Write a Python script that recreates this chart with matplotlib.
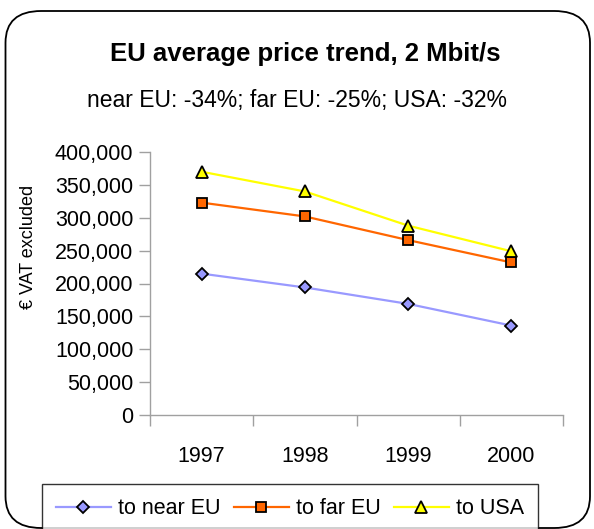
import matplotlib
matplotlib.use("Agg")
import matplotlib.pyplot as plt
from matplotlib.patches import FancyBboxPatch
from matplotlib.ticker import FuncFormatter, FixedLocator

years = ["1997", "1998", "1999", "2000"]
near_eu = [215000, 194000, 169000, 136000]
far_eu = [323000, 302000, 266000, 232000]
usa = [370000, 340000, 288000, 249000]

plt.rcParams['font.family'] = ['Liberation Sans', 'DejaVu Sans']

W, H = 594, 529
fig = plt.figure(figsize=(W / 100, H / 100), dpi=100)

# rounded outer frame
frame = FancyBboxPatch((5.5 / W, 1 - 528 / H), (590 - 5.5) / W, (528 - 11) / H,
                       boxstyle="round,pad=0,rounding_size=0.06",
                       transform=fig.transFigure, fill=False,
                       edgecolor="black", linewidth=1.3)
fig.patches.append(frame)

fig.text(305 / W, 1 - 61 / H, "EU average price trend, 2 Mbit/s",
         ha="center", va="baseline", fontsize=18.5, fontweight="bold")
fig.text(297 / W, 1 - 107 / H, "near EU: -34%; far EU: -25%; USA: -32%",
         ha="center", va="baseline", fontsize=16.5)

ax = fig.add_axes([150 / W, 1 - 415 / H, (563 - 150) / W, (415 - 152) / H])
x = range(len(years))
ax.plot(x, near_eu, color="#9999FF", lw=1.6, marker="D", ms=6,
        mfc="#9999FF", mec="black", mew=1.3, label="to near EU")
ax.plot(x, far_eu, color="#FF6600", lw=1.6, marker="s", ms=7.5,
        mfc="#FF6600", mec="black", mew=1.3, label="to far EU")
ax.plot(x, usa, color="#FFFF00", lw=1.6, marker="^", ms=8.5,
        mfc="#FFFF00", mec="black", mew=1.3, label="to USA")

ax.set_xlim(-0.5, len(years) - 0.5)
ax.set_ylim(0, 400000)
ax.set_yticks(range(0, 400001, 50000))
ax.yaxis.set_major_formatter(FuncFormatter(lambda v, p: f"{int(v):,}"))
ax.set_xticks(list(x))
ax.set_xticklabels(years)
ax.xaxis.set_minor_locator(FixedLocator([i - 0.5 for i in range(len(years) + 1)]))
ax.tick_params(axis="x", which="major", length=0, pad=22, labelsize=15.5)
ax.tick_params(axis="x", which="minor", length=8, color="#A0A0A0", width=1)
ax.tick_params(axis="y", length=8, color="#A0A0A0", width=1, pad=4, labelsize=15.5)
for s in ["top", "right"]:
    ax.spines[s].set_visible(False)
for s in ["left", "bottom"]:
    ax.spines[s].set_color("#A0A0A0")
    ax.spines[s].set_linewidth(1)
ax.set_ylabel("€ VAT excluded", fontsize=13)
ax.yaxis.set_label_coords(-0.274, 0.64)

leg = fig.legend(loc="upper left",
                 bbox_to_anchor=(42 / W, 1 - 485 / H, (538 - 42) / W, 0.001),
                 mode="expand", ncol=3, fontsize=15.5, frameon=True, fancybox=False,
                 edgecolor="black", handlelength=2.55, handletextpad=0.33,
                 columnspacing=1.0, borderpad=0.65, borderaxespad=0)
leg.get_frame().set_linewidth(1)

fig.savefig("out.png", dpi=100)
